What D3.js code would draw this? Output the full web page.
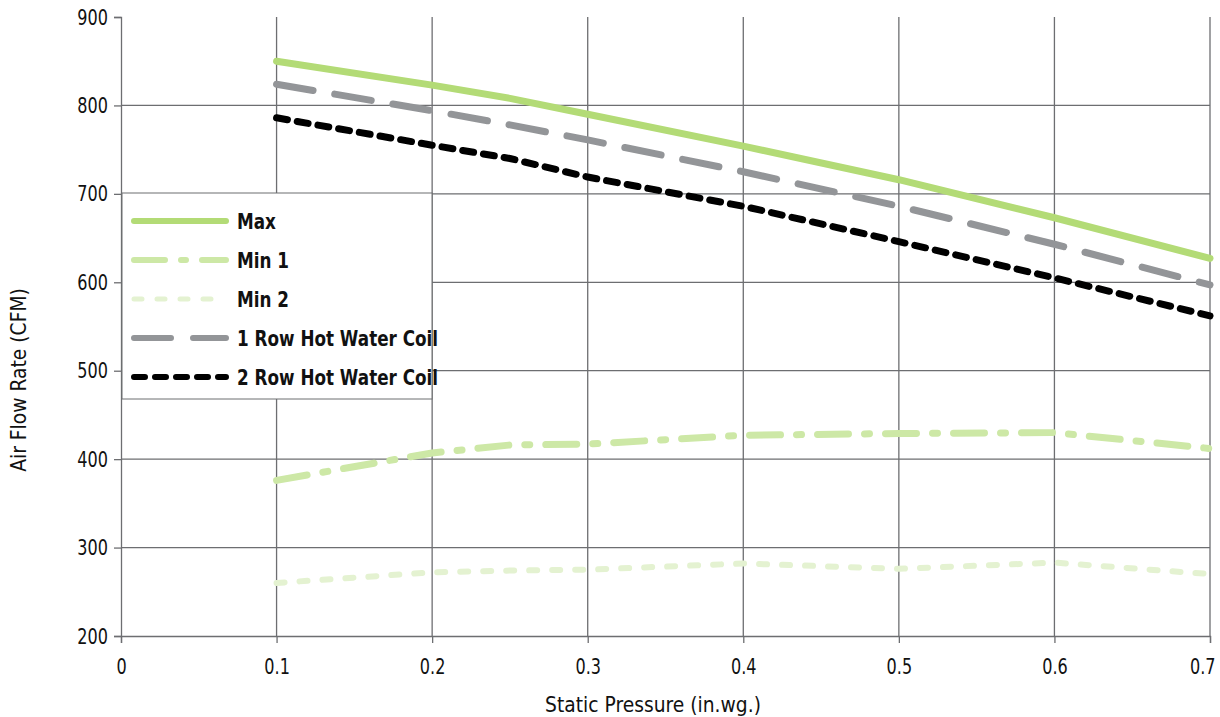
<!DOCTYPE html>
<html>
<head>
<meta charset="utf-8">
<script src="https://cdn.jsdelivr.net/npm/d3@7"></script>
<style>
  body { margin: 0; background: #fff; }
  svg text { font-family: "DejaVu Sans", sans-serif; fill: #111; }
</style>
</head>
<body>
<div id="chart"></div>
<script>
const MARGINS = { left: 121, right: 10, top: 17, bottom: 81 };
const FRAME_WIDTH = 1220;
const FRAME_HEIGHT = 717;
const VIS_WIDTH = 1210 - MARGINS.left;
const VIS_HEIGHT = 636 - MARGINS.top;

// data
const pressure = [0.1, 0.2, 0.25, 0.3, 0.4, 0.5, 0.6, 0.7];
const maxFlow = [850, 823, 808, 790, 754, 716, 673, 627];
const min1Flow = [376, 407, 416, 417, 427, 429, 430, 412];
const min2Flow = [260, 272, 274, 275, 282, 276, 283, 270];
const row1Flow = [824, 794, 778, 761, 725, 686, 643, 597];
const row2Flow = [786, 755, 740, 719, 686, 646, 605, 562];

const xTicks = [0, 0.1, 0.2, 0.3, 0.4, 0.5, 0.6, 0.7];
const yTicks = [200, 300, 400, 500, 600, 700, 800, 900];

const seriesNames = ["Max", "Min 1", "Min 2", "1 Row Hot Water Coil", "2 Row Hot Water Coil"];
const seriesValues = [maxFlow, min1Flow, min2Flow, row1Flow, row2Flow];

const seriesStyle = [
  { color: "#b3db76", width: 7, dash: null },
  { color: "#cde8a6", width: 7, dash: "31,16,5,16" },
  { color: "#e4f2d1", width: 6, dash: "8,15" },
  { color: "#939598", width: 7, dash: "37,22" },
  { color: "#000000", width: 7, dash: "11,10" }
];

// the reference font is a condensed one, squeeze DejaVu to match
function squeeze(sel, ratio) {
  sel.each(function () {
    const w = this.getComputedTextLength();
    d3.select(this)
      .attr("textLength", w * ratio)
      .attr("lengthAdjust", "spacingAndGlyphs");
  });
}

const svg = d3.select("#chart").append("svg")
  .attr("width", FRAME_WIDTH)
  .attr("height", FRAME_HEIGHT);

const X_SCALE = d3.scaleLinear().domain([0, 0.7]).range([0, VIS_WIDTH]);
const Y_SCALE = d3.scaleLinear().domain([200, 900]).range([VIS_HEIGHT, 0]);

const g = svg.append("g")
  .attr("transform", "translate(" + MARGINS.left + "," + MARGINS.top + ")");

// grid
g.selectAll(".vgrid")
  .data(xTicks.slice(1))
  .enter()
  .append("line")
  .attr("x1", d => X_SCALE(d))
  .attr("x2", d => X_SCALE(d))
  .attr("y1", 0)
  .attr("y2", VIS_HEIGHT)
  .attr("stroke", "#6d6e71")
  .attr("stroke-width", 1.3);

g.selectAll(".hgrid")
  .data(yTicks.slice(1, -1))
  .enter()
  .append("line")
  .attr("x1", 0)
  .attr("x2", VIS_WIDTH)
  .attr("y1", d => Y_SCALE(d))
  .attr("y2", d => Y_SCALE(d))
  .attr("stroke", "#6d6e71")
  .attr("stroke-width", 1.3);

// axes
const xAxis = g.append("g")
  .attr("transform", "translate(0," + VIS_HEIGHT + ")")
  .call(d3.axisBottom(X_SCALE).tickValues(xTicks).tickSize(7).tickPadding(15)
    .tickFormat(d => d === 0 ? "0" : d3.format(".1f")(d)));

const yAxis = g.append("g")
  .call(d3.axisLeft(Y_SCALE).tickValues(yTicks).tickSize(7).tickPadding(6));

[xAxis, yAxis].forEach(a => {
  a.attr("font-family", null).attr("font-size", null);
  a.select(".domain").attr("stroke", "#6d6e71").attr("stroke-width", 1.3);
  a.selectAll(".tick line").attr("stroke", "#6d6e71").attr("stroke-width", 1.3);
  a.selectAll(".tick text")
    .attr("fill", "#111")
    .style("font-size", "22px");
  squeeze(a.selectAll(".tick text"), 0.73);
});

// last x label sits inside the frame
xAxis.selectAll(".tick text").filter(d => d === 0.7)
  .attr("text-anchor", "end")
  .attr("x", 5);

// lines
const line = d3.line()
  .x((d, i) => X_SCALE(pressure[i]))
  .y(d => Y_SCALE(d));

// draw order: light ones first
[2, 1, 4, 3, 0].forEach(k => {
  const st = seriesStyle[k];
  g.append("path")
    .datum(seriesValues[k])
    .attr("d", line)
    .attr("fill", "none")
    .attr("stroke", st.color)
    .attr("stroke-width", st.width)
    .attr("stroke-linecap", "round")
    .attr("stroke-linejoin", "round")
    .attr("stroke-dasharray", st.dash);
});

// legend
const legend = g.append("g").attr("transform", "translate(1,176)");
legend.append("rect")
  .attr("width", 310)
  .attr("height", 206)
  .attr("fill", "#fff")
  .attr("stroke", "#6d6e71")
  .attr("stroke-width", 1);

seriesNames.forEach((name, i) => {
  const st = seriesStyle[i];
  const y = 28 + i * 39;
  legend.append("line")
    .attr("x1", 12)
    .attr("x2", 104)
    .attr("y1", y)
    .attr("y2", y)
    .attr("stroke", st.color)
    .attr("stroke-width", i === 2 ? 5 : 6)
    .attr("stroke-linecap", "round")
    .attr("stroke-dasharray", st.dash);
  const t = legend.append("text")
    .attr("x", 115)
    .attr("y", y + 8)
    .style("font-size", "21px")
    .attr("font-weight", "bold")
    .text(name);
  squeeze(t, 0.8);
});

// axis titles
const xTitle = svg.append("text")
  .attr("x", 653)
  .attr("y", 712)
  .attr("text-anchor", "middle")
  .style("font-size", "22px")
  .text("Static Pressure (in.wg.)");
squeeze(xTitle, 0.85);

const yTitle = svg.append("text")
  .attr("transform", "translate(26,380) rotate(-90)")
  .attr("text-anchor", "middle")
  .style("font-size", "22px")
  .text("Air Flow Rate (CFM)");
squeeze(yTitle, 0.85);
</script>
</body>
</html>
